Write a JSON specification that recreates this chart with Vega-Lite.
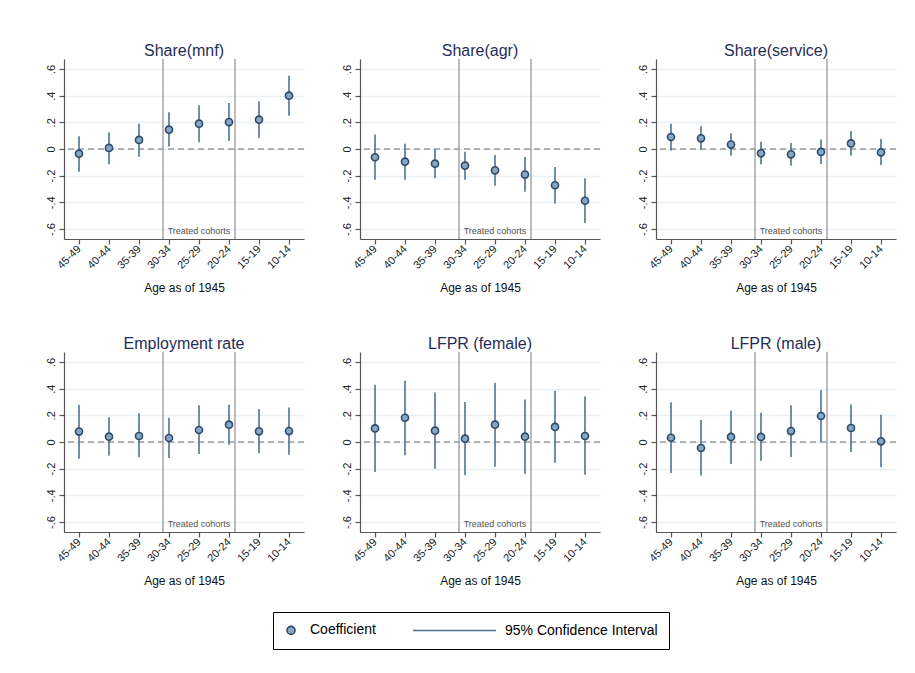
{
  "$schema": "https://vega.github.io/schema/vega-lite/v6.json",
  "padding": {"left": 44, "top": 43, "right": 5, "bottom": 5},
  "background": "white",
  "data": {"values": [
    {"outcome": "Share(mnf)", "i": 0, "age": "45-49", "coef": -0.035, "lo": -0.17, "hi": 0.095},
    {"outcome": "Share(mnf)", "i": 1, "age": "40-44", "coef": 0.008, "lo": -0.115, "hi": 0.125},
    {"outcome": "Share(mnf)", "i": 2, "age": "35-39", "coef": 0.068, "lo": -0.058, "hi": 0.19},
    {"outcome": "Share(mnf)", "i": 3, "age": "30-34", "coef": 0.145, "lo": 0.018, "hi": 0.275},
    {"outcome": "Share(mnf)", "i": 4, "age": "25-29", "coef": 0.19, "lo": 0.05, "hi": 0.328},
    {"outcome": "Share(mnf)", "i": 5, "age": "20-24", "coef": 0.202, "lo": 0.06, "hi": 0.345},
    {"outcome": "Share(mnf)", "i": 6, "age": "15-19", "coef": 0.22, "lo": 0.083, "hi": 0.358},
    {"outcome": "Share(mnf)", "i": 7, "age": "10-14", "coef": 0.4, "lo": 0.25, "hi": 0.55},
    {"outcome": "Share(agr)", "i": 0, "age": "45-49", "coef": -0.062, "lo": -0.23, "hi": 0.108},
    {"outcome": "Share(agr)", "i": 1, "age": "40-44", "coef": -0.095, "lo": -0.23, "hi": 0.04},
    {"outcome": "Share(agr)", "i": 2, "age": "35-39", "coef": -0.11, "lo": -0.22, "hi": 0.0},
    {"outcome": "Share(agr)", "i": 3, "age": "30-34", "coef": -0.125, "lo": -0.23, "hi": -0.02},
    {"outcome": "Share(agr)", "i": 4, "age": "25-29", "coef": -0.16, "lo": -0.275, "hi": -0.045},
    {"outcome": "Share(agr)", "i": 5, "age": "20-24", "coef": -0.192, "lo": -0.32, "hi": -0.06},
    {"outcome": "Share(agr)", "i": 6, "age": "15-19", "coef": -0.272, "lo": -0.408, "hi": -0.135},
    {"outcome": "Share(agr)", "i": 7, "age": "10-14", "coef": -0.388, "lo": -0.555, "hi": -0.22},
    {"outcome": "Share(service)", "i": 0, "age": "45-49", "coef": 0.09, "lo": -0.012, "hi": 0.19},
    {"outcome": "Share(service)", "i": 1, "age": "40-44", "coef": 0.08, "lo": -0.005, "hi": 0.17},
    {"outcome": "Share(service)", "i": 2, "age": "35-39", "coef": 0.033, "lo": -0.05, "hi": 0.118},
    {"outcome": "Share(service)", "i": 3, "age": "30-34", "coef": -0.032, "lo": -0.115, "hi": 0.055},
    {"outcome": "Share(service)", "i": 4, "age": "25-29", "coef": -0.04, "lo": -0.125, "hi": 0.045},
    {"outcome": "Share(service)", "i": 5, "age": "20-24", "coef": -0.022, "lo": -0.112, "hi": 0.072},
    {"outcome": "Share(service)", "i": 6, "age": "15-19", "coef": 0.042, "lo": -0.05, "hi": 0.135},
    {"outcome": "Share(service)", "i": 7, "age": "10-14", "coef": -0.025, "lo": -0.12, "hi": 0.075},
    {"outcome": "Employment rate", "i": 0, "age": "45-49", "coef": 0.078, "lo": -0.125, "hi": 0.28},
    {"outcome": "Employment rate", "i": 1, "age": "40-44", "coef": 0.04, "lo": -0.102, "hi": 0.185},
    {"outcome": "Employment rate", "i": 2, "age": "35-39", "coef": 0.045, "lo": -0.115, "hi": 0.215},
    {"outcome": "Employment rate", "i": 3, "age": "30-34", "coef": 0.03, "lo": -0.12, "hi": 0.182},
    {"outcome": "Employment rate", "i": 4, "age": "25-29", "coef": 0.09, "lo": -0.09, "hi": 0.275},
    {"outcome": "Employment rate", "i": 5, "age": "20-24", "coef": 0.13, "lo": -0.02, "hi": 0.28},
    {"outcome": "Employment rate", "i": 6, "age": "15-19", "coef": 0.08, "lo": -0.085, "hi": 0.248},
    {"outcome": "Employment rate", "i": 7, "age": "10-14", "coef": 0.082, "lo": -0.095, "hi": 0.258},
    {"outcome": "LFPR (female)", "i": 0, "age": "45-49", "coef": 0.102, "lo": -0.225, "hi": 0.43},
    {"outcome": "LFPR (female)", "i": 1, "age": "40-44", "coef": 0.182, "lo": -0.1, "hi": 0.46},
    {"outcome": "LFPR (female)", "i": 2, "age": "35-39", "coef": 0.085, "lo": -0.2, "hi": 0.372},
    {"outcome": "LFPR (female)", "i": 3, "age": "30-34", "coef": 0.025, "lo": -0.25, "hi": 0.3},
    {"outcome": "LFPR (female)", "i": 4, "age": "25-29", "coef": 0.13, "lo": -0.185, "hi": 0.445},
    {"outcome": "LFPR (female)", "i": 5, "age": "20-24", "coef": 0.04, "lo": -0.238, "hi": 0.318},
    {"outcome": "LFPR (female)", "i": 6, "age": "15-19", "coef": 0.113, "lo": -0.155, "hi": 0.385},
    {"outcome": "LFPR (female)", "i": 7, "age": "10-14", "coef": 0.045, "lo": -0.245, "hi": 0.342},
    {"outcome": "LFPR (male)", "i": 0, "age": "45-49", "coef": 0.032, "lo": -0.232, "hi": 0.298},
    {"outcome": "LFPR (male)", "i": 1, "age": "40-44", "coef": -0.045, "lo": -0.252, "hi": 0.165},
    {"outcome": "LFPR (male)", "i": 2, "age": "35-39", "coef": 0.038, "lo": -0.165, "hi": 0.235},
    {"outcome": "LFPR (male)", "i": 3, "age": "30-34", "coef": 0.038, "lo": -0.14, "hi": 0.22},
    {"outcome": "LFPR (male)", "i": 4, "age": "25-29", "coef": 0.082, "lo": -0.112, "hi": 0.275},
    {"outcome": "LFPR (male)", "i": 5, "age": "20-24", "coef": 0.195, "lo": 0.0, "hi": 0.39},
    {"outcome": "LFPR (male)", "i": 6, "age": "15-19", "coef": 0.105, "lo": -0.075, "hi": 0.282},
    {"outcome": "LFPR (male)", "i": 7, "age": "10-14", "coef": 0.005, "lo": -0.19, "hi": 0.205}
  ]},
  "facet": {
    "field": "outcome",
    "type": "nominal",
    "sort": ["Share(mnf)", "Share(agr)", "Share(service)", "Employment rate", "LFPR (female)", "LFPR (male)"],
    "header": {"title": null, "labelFontSize": 16, "labelColor": "#1f2d58", "labelFont": "Liberation Sans", "labelPadding": -1}
  },
  "columns": 3,
  "spacing": {"column": 35, "row": 42},
  "resolve": {"axis": {"x": "independent", "y": "independent"}},
  "spec": {
    "width": 240,
    "height": 180,
    "layer": [
      {
        "transform": [{"filter": "datum.i == 0"}],
        "mark": {"type": "rule", "color": "#9a9a9a", "strokeWidth": 1.5, "strokeDash": [6, 4]},
        "encoding": {"y": {"datum": 0, "type": "quantitative", "scale": {"domain": [-0.675, 0.675], "nice": false, "zero": false}}}
      },
      {
        "transform": [{"filter": "datum.i == 0"}],
        "mark": {"type": "rule", "color": "#a6a6a6", "strokeWidth": 1.5},
        "encoding": {"x": {"datum": 2.8, "type": "quantitative"}}
      },
      {
        "transform": [{"filter": "datum.i == 0"}],
        "mark": {"type": "rule", "color": "#a6a6a6", "strokeWidth": 1.5},
        "encoding": {"x": {"datum": 5.2, "type": "quantitative"}}
      },
      {
        "transform": [{"filter": "datum.i == 0"}],
        "mark": {"type": "text", "text": "Treated cohorts", "fontSize": 9, "color": "#555555", "font": "Liberation Sans", "baseline": "middle", "align": "center"},
        "encoding": {
          "x": {"datum": 4, "type": "quantitative"},
          "y": {"datum": -0.615, "type": "quantitative"}
        }
      },
      {
        "mark": {"type": "rule", "strokeWidth": 1.6, "stroke": "#4d7296"},
        "encoding": {
          "x": {"field": "i", "type": "quantitative"},
          "y": {"field": "lo", "type": "quantitative"},
          "y2": {"field": "hi"}
        }
      },
      {
        "mark": {"type": "point", "filled": true, "fill": "#8aa6c1", "strokeWidth": 1.6, "size": 50, "opacity": 1},
        "encoding": {
          "x": {"field": "i", "type": "quantitative", "title": "Age as of 1945",
                "scale": {"domain": [-0.5, 7.5], "nice": false, "zero": false},
                "axis": {"values": [0, 1, 2, 3, 4, 5, 6, 7], "tickCount": 20, "labelAngle": -45, "labelAlign": "right", "labelBaseline": "middle", "labelOverlap": false,
                         "labelExpr": "['45-49','40-44','35-39','30-34','25-29','20-24','15-19','10-14'][datum.value]",
                         "grid": false, "titlePadding": 12}},
          "y": {"field": "coef", "type": "quantitative", "title": null,
                "axis": {"values": [-0.6, -0.4, -0.2, 0, 0.2, 0.4, 0.6], "tickCount": 20, "labelAngle": -90, "labelAlign": "center", "labelBaseline": "bottom", "labelOverlap": false,
                         "labelExpr": "datum.value == 0 ? '0' : (datum.value < 0 ? '-' : '') + '.' + round(abs(datum.value) * 10)",
                         "grid": true}},
          "stroke": {
            "datum": "Coefficient",
            "scale": {"domain": ["Coefficient", "95% Confidence Interval"], "range": ["#2b4a6c", "#4d7296"]},
            "legend": {
              "title": null,
              "orient": "bottom",
              "direction": "horizontal",
              "strokeColor": "#000000",
              "padding": 11,
              "offset": 25,
              "labelFontSize": 14,
              "labelFont": "Liberation Sans",
              "labelColor": "#000000",
              "labelOffset": 12,
              "symbolSize": 64,
              "symbolFillColor": "#8aa6c1",
              "symbolStrokeWidth": 1.6,
              "columnPadding": 33
            }
          },
          "shape": {
            "datum": "Coefficient",
            "scale": {"domain": ["Coefficient", "95% Confidence Interval"], "range": ["circle", "M-18.25,0H2.5"]},
            "legend": {
              "title": null,
              "orient": "bottom",
              "direction": "horizontal",
              "strokeColor": "#000000",
              "padding": 11,
              "offset": 25,
              "labelFontSize": 14,
              "labelFont": "Liberation Sans",
              "labelColor": "#000000",
              "labelOffset": 12,
              "symbolSize": 64,
              "symbolFillColor": "#8aa6c1",
              "symbolStrokeWidth": 1.6,
              "columnPadding": 33
            }
          }
        }
      }
    ]
  },
  "config": {
    "font": "Liberation Sans",
    "view": {"stroke": null},
    "legend": {"layout": {"bottom": {"anchor": "middle"}}},
    "axis": {
      "labelOverlap": false,
      "labelFont": "Liberation Sans",
      "labelFontSize": 11,
      "labelColor": "#222222",
      "titleFont": "Liberation Sans",
      "titleFontSize": 12,
      "titleFontWeight": "normal",
      "titleColor": "#111111",
      "domainColor": "#555555",
      "domainWidth": 1.2,
      "tickColor": "#555555",
      "tickWidth": 1.2,
      "tickSize": 5,
      "labelPadding": 3,
      "gridColor": "#e9f0f2",
      "gridWidth": 1.3
    }
  }
}
